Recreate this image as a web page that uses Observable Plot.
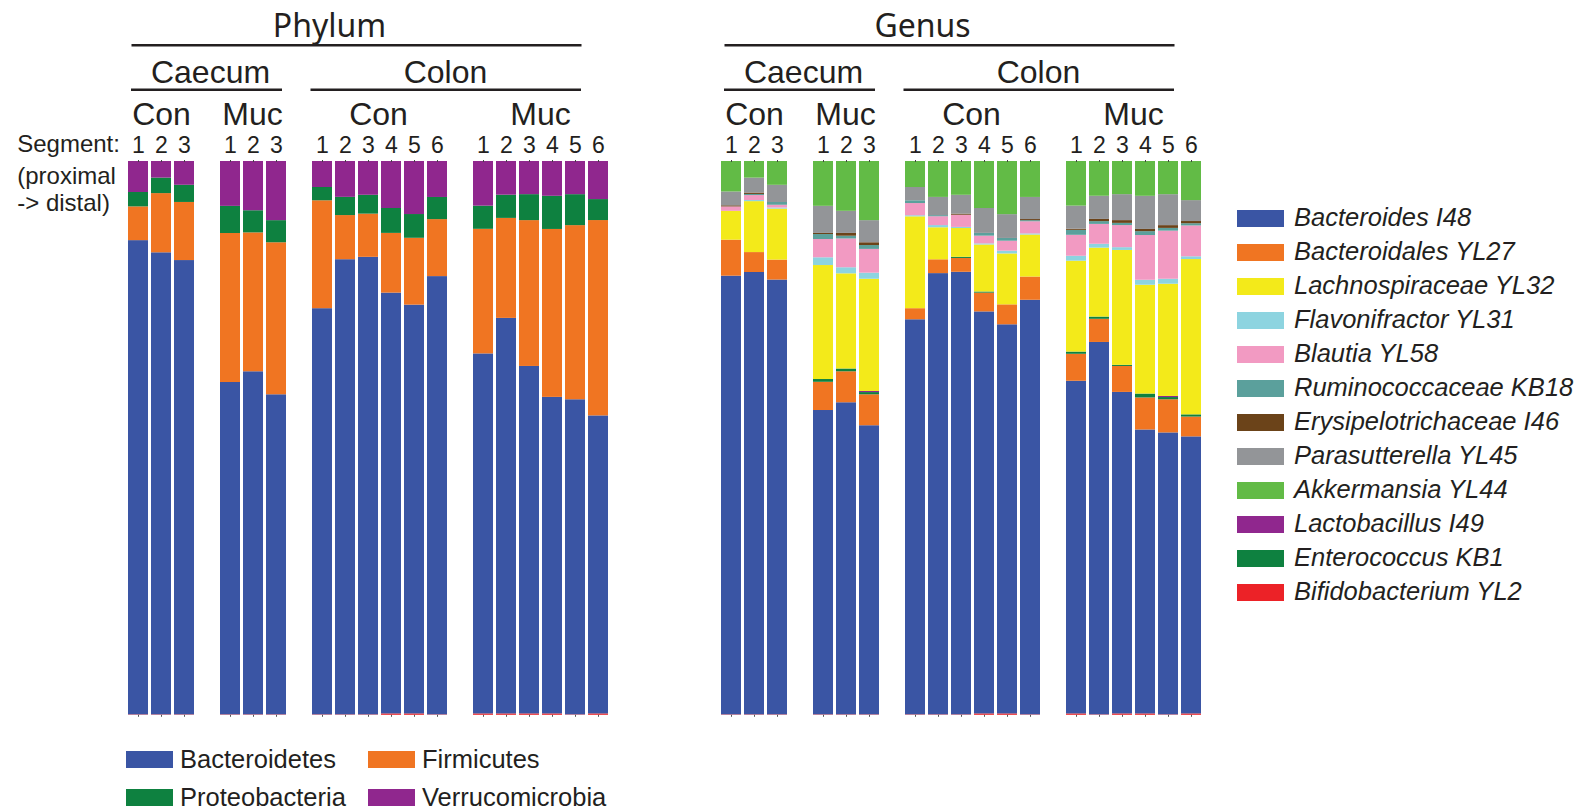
<!DOCTYPE html>
<html>
<head>
<meta charset="utf-8">
<script src="https://cdn.jsdelivr.net/npm/d3@7"></script>
<script src="https://cdn.jsdelivr.net/npm/@observablehq/plot@0.6"></script>
<style>
  html, body { margin: 0; padding: 0; background: #fff; }
  body { width: 1593px; height: 809px; overflow: hidden; font-family: "Liberation Sans", Arial, sans-serif; color: #231f20; }
  #wrap { position: relative; width: 1593px; height: 809px; }
  .panel { position: absolute; top: 0; }
  .panel svg { display: block; max-width: none; }
  .legend { position: absolute; margin: 0; padding: 0; list-style: none; }
  .legend li { display: flex; align-items: center; white-space: nowrap; }
  .legend .sw { flex: none; width: 47px; height: 17px; }
  #phylumLegend { left: 126px; top: 740.5px; display: grid; grid-template-columns: 242px auto; }
  #phylumLegend li { height: 38px; font-size: 25.5px; line-height: 25.5px; }
  #phylumLegend .sw { margin-right: 7px; }
  #genusLegend { left: 1237px; top: 201.5px; }
  #genusLegend li { height: 34px; font-size: 25.5px; line-height: 34px; font-style: italic; }
  #genusLegend .sw { margin-right: 10px; }
  #genusLegend span.t { position: relative; top: -2px; }
</style>
</head>
<body>
<div id="wrap">
  <div class="panel" id="phylumPanel" style="left:0px"></div>
  <div class="panel" id="genusPanel" style="left:593px"></div>
  <ul class="legend" id="phylumLegend"></ul>
  <ul class="legend" id="genusLegend"></ul>
</div>
<script>
// ---------- samples (x categories) ----------
const sampleSite = ["Caecum","Caecum","Caecum","Caecum","Caecum","Caecum",
  "Colon","Colon","Colon","Colon","Colon","Colon","Colon","Colon","Colon","Colon","Colon","Colon"];
const sampleGroup = ["Con","Con","Con","Muc","Muc","Muc",
  "Con","Con","Con","Con","Con","Con","Muc","Muc","Muc","Muc","Muc","Muc"];
const sampleSegment = [1,2,3,1,2,3, 1,2,3,4,5,6, 1,2,3,4,5,6];

// ---------- phylum level (% relative abundance) ----------
const phylumNames = ["Actinobacteria","Bacteroidetes","Firmicutes","Proteobacteria","Verrucomicrobia"]; // stack order, bottom -> top
const phylumColors = ["#ec2227","#3a55a4","#f07522","#0e8140","#90278e"];
const phylumLegendNames = ["Bacteroidetes","Firmicutes","Proteobacteria","Verrucomicrobia"];
const actinobacteria  = [0.08,0.08,0.08,0.08,0.08,0.08, 0.08,0.08,0.08,0.25,0.25,0.08, 0.25,0.25,0.25,0.25,0.08,0.25];
const bacteroidetes   = [85.7,83.5,82.1,60.0,62.0,57.9, 73.4,82.5,82.6,76.1,74.0,79.2, 65.3,71.6,62.9,57.3,57.0,54.0];
const firmicutes      = [6.1,10.7,10.5,26.9,25.1,27.5, 19.5,8.0,7.8,10.8,12.1,10.3, 22.6,18.1,26.4,30.4,31.5,35.4];
const proteobacteria  = [2.6,2.8,3.1,4.9,4.0,4.0, 2.4,3.3,3.4,4.5,4.3,4.0, 4.2,4.2,4.7,6.0,5.6,3.8];
const verrucomicrobia = [5.6,3.0,4.3,8.1,8.9,10.7, 4.7,6.5,6.1,8.5,9.6,6.5, 8.1,6.1,6.0,6.3,6.0,6.9];
const phylumSeries = [actinobacteria, bacteroidetes, firmicutes, proteobacteria, verrucomicrobia];

// ---------- genus level (% relative abundance) ----------
const genusNames = ["Bifidobacterium YL2","Bacteroides I48","Bacteroidales YL27","Enterococcus KB1","Lactobacillus I49",
  "Lachnospiraceae YL32","Flavonifractor YL31","Blautia YL58","Ruminococcaceae KB18","Erysipelotrichaceae I46",
  "Parasutterella YL45","Akkermansia YL44"]; // stack order, bottom -> top
const genusColors = ["#ec2227","#3a55a4","#f07522","#0e8140","#90278e",
  "#f3ea1a","#8dd4e0","#f29ac2","#5ba09c","#6b4319","#939598","#62bb46"];
const genusLegendNames = ["Bacteroides I48","Bacteroidales YL27","Lachnospiraceae YL32","Flavonifractor YL31",
  "Blautia YL58","Ruminococcaceae KB18","Erysipelotrichaceae I46","Parasutterella YL45","Akkermansia YL44",
  "Lactobacillus I49","Enterococcus KB1","Bifidobacterium YL2"];
const bifidobacterium   = [0.08,0.08,0.08,0.08,0.08,0.08, 0.08,0.08,0.08,0.25,0.25,0.08, 0.25,0.08,0.25,0.25,0.08,0.25];
const bacteroides       = [79.2,79.9,78.5,55.0,56.4,52.3, 71.4,79.9,79.9,72.7,70.3,75.0, 60.4,67.5,58.2,51.4,51.0,50.3];
const bacteroidales     = [6.5,3.6,3.6,5.1,5.6,5.6, 2.0,2.5,2.5,3.4,3.6,4.2, 4.9,4.2,4.7,5.8,6.0,3.6];
const enterococcus      = [0,0,0,0.5,0.5,0.4, 0,0,0.2,0.2,0,0, 0.4,0.4,0.2,0.7,0.4,0.4];
const lactobacillus     = [0,0,0,0,0,0.2, 0,0,0,0,0,0, 0,0,0,0,0.2,0];
const lachnospiraceae   = [5.2,9.2,9.2,20.6,17.2,20.3, 16.6,5.8,5.2,8.5,9.2,7.6, 16.5,12.5,20.8,19.7,20.3,28.2];
const flavonifractor    = [0,0.2,0.2,1.4,1.1,1.1, 0.2,0.4,0.2,0.2,0.5,0.2, 0.9,0.7,0.5,0.9,0.9,0.5];
const blautia           = [0.8,0.9,0.5,3.3,5.2,4.3, 2.2,1.6,2.2,1.4,1.8,2.2, 3.8,3.6,4.0,8.1,8.7,5.6];
const ruminococcaceae   = [0,0.2,0.5,0.9,0.5,0.7, 0.5,0.2,0,0.5,0.5,0.2, 0.9,0.5,0.4,0.7,0.5,0.4];
const erysipelotrichaceae = [0.2,0.25,0,0.2,0.5,0.5, 0,0,0.2,0,0,0.2, 0.2,0.4,0.5,0.4,0.5,0.4];
const parasutterella    = [2.5,2.7,3.1,4.9,4.0,4.0, 2.4,3.3,3.4,4.5,4.3,4.0, 4.2,4.2,4.7,6.0,5.6,3.8];
const akkermansia       = [5.5,3.0,4.3,8.1,9.0,10.7, 4.7,6.5,6.1,8.5,9.6,6.5, 8.1,6.3,6.0,6.3,6.0,7.1];
const genusSeries = [bifidobacterium, bacteroides, bacteroidales, enterococcus, lactobacillus, lachnospiraceae,
  flavonifractor, blautia, ruminococcaceae, erysipelotrichaceae, parasutterella, akkermansia];

// ---------- x domain with spacer slots between groups ----------
const sampleKeys = sampleSite.map((s, i) => `${s}-${sampleGroup[i]}-${sampleSegment[i]}`);
const xDomain = [];
let gapCount = 0;
sampleKeys.forEach((k, i) => {
  if (i > 0 && (sampleSite[i] !== sampleSite[i-1] || sampleGroup[i] !== sampleGroup[i-1])) xDomain.push(`gap${++gapCount}`);
  xDomain.push(k);
});

const ink = "#231f20";
const headFont = "Liberation Sans, Arial, sans-serif";

function makePanel(title, names, series, colors, titleFont) {
  const rows = [];
  names.forEach((n, i) => sampleKeys.forEach((k, j) => rows.push({key: k, taxon: n, value: series[i][j]})));
  const k = (site, group, seg) => `${site}-${group}-${seg}`;
  const label = (txt, key, dx, dy, size, font) => Plot.text([txt], {
    x: () => key, text: d => d, frameAnchor: "top", lineAnchor: "bottom",
    dx, dy, fontSize: size, fontFamily: font || headFont, fill: ink
  });
  const line = (a, b, inL, inR, dy) => Plot.ruleY([1], {
    x1: () => a, x2: () => b, insetLeft: inL, insetRight: inR, dy, stroke: ink, strokeWidth: 2.4
  });
  const marks = [
    Plot.barY(rows, Plot.stackY({x: "key", y: "value", fill: "taxon", order: names, offset: "normalize"})),
    Plot.axisX({anchor: "top", ticks: sampleKeys, tickFormat: d => d.split("-")[2], tickSize: 2, tickPadding: 7,
      fontSize: 23, label: null, stroke: "#444", fill: ink}),
    Plot.axisX({anchor: "bottom", ticks: sampleKeys, tickFormat: () => "", tickSize: 2, label: null, stroke: "#555"}),
    label(title, k("Colon","Con",3), -39, -124.3, 32, titleFont),
    line(k("Caecum","Con",1), k("Colon","Muc",6), 3.5, 26.5, -116.3),
    label("Caecum", "gap1", 3, -78.8, 32),
    label("Colon", "gap3", -15, -78.8, 32),
    line(k("Caecum","Con",1), k("Caecum","Muc",3), 3, 4, -71.7),
    line(k("Colon","Con",1), k("Colon","Muc",6), -1.5, 27, -71.7),
    label("Con", k("Caecum","Con",2), 0, -36.5, 32),
    label("Muc", k("Caecum","Muc",2), -1, -36.5, 32),
    label("Con", k("Colon","Con",3), 10, -36.5, 32),
    label("Muc", k("Colon","Muc",3), 11, -36.5, 32)
  ];
  return {rows, marks, colors};
}

function render(el, panel, extraMarks) {
  const svg = Plot.plot({
    width: 620, height: 730,
    marginTop: 161, marginBottom: 15.2, marginLeft: 127, marginRight: 12,
    x: {domain: xDomain, paddingInner: 0.15, paddingOuter: 0, align: 0.5},
    y: {domain: [0, 1], axis: null},
    color: {domain: panel.names, range: panel.colors},
    style: {background: "transparent", overflow: "visible", fontFamily: headFont, color: ink},
    marks: [...panel.marks, ...(extraMarks || [])]
  });
  document.getElementById(el).appendChild(svg);
}

const phylum = makePanel("Phylum", phylumNames, phylumSeries, phylumColors, "Noto Sans, Open Sans, sans-serif");
phylum.names = phylumNames;
const segText = (txt, dy) => Plot.text([txt], {
  frameAnchor: "top-left", textAnchor: "start", lineAnchor: "bottom",
  dx: -110.3, dy, text: d => d, fontSize: 24, fill: ink
});
render("phylumPanel", phylum, [
  segText("Segment:", -9.3),
  segText("(proximal", 22.3),
  segText("-> distal)", 49.7)
]);

const genus = makePanel("Genus", genusNames, genusSeries, genusColors, "Noto Sans, Open Sans, sans-serif");
genus.names = genusNames;
render("genusPanel", genus);

// ---------- legends ----------
function fillLegend(id, names, allNames, colors) {
  const ul = d3.select("#" + id);
  names.forEach(n => {
    const li = ul.append("li");
    li.append("span").attr("class", "sw").style("background", colors[allNames.indexOf(n)]);
    li.append("span").attr("class", "t").text(n);
  });
}
fillLegend("phylumLegend", phylumLegendNames, phylumNames, phylumColors);
fillLegend("genusLegend", genusLegendNames, genusNames, genusColors);
</script>
</body>
</html>
